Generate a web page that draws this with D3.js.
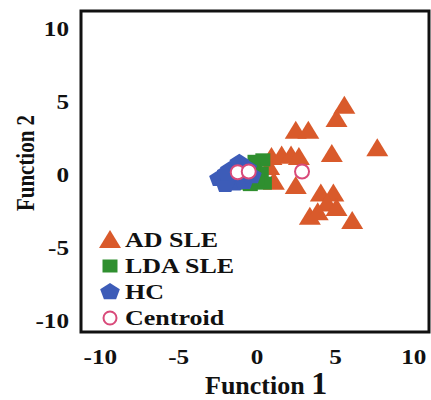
<!DOCTYPE html>
<html>
<head>
<meta charset="utf-8">
<script src="https://cdn.jsdelivr.net/npm/d3@7"></script>
<style>
  body { margin: 0; background: #fff; }
  text { font-family: "Liberation Serif", "Times New Roman", serif; font-weight: bold; fill: #111; }
</style>
</head>
<body>
<div id="chart"></div>
<script>
// group scores on the two discriminant functions
var adSle = [[5.6,4.7],[5.1,3.8],[2.5,3.0],[3.3,3.0],[7.7,1.8],[4.8,1.4],
             [0.95,1.2],[1.6,1.3],[2.2,1.3],[2.7,1.2],[0.8,0.5],[1.1,-0.5],[2.5,-0.8],
             [4.1,-1.3],[4.9,-1.3],[4.5,-2.0],[5.1,-2.3],[3.4,-2.9],[3.9,-2.6],[6.1,-3.2]];
var ldaSle = [[-0.1,0.9],[0.4,1.0],[0.3,0.1],[0.5,-0.6],[-0.4,-0.7],[-1.1,-0.6],
              [-1.6,-0.3],[0.0,-0.3],[-0.2,0.4]];
var hc = [[-2.4,-0.3],[-1.7,0.3],[-1.1,0.8],[-0.6,0.4],[-1.4,-0.6],[-0.8,-0.5],
          [-2.0,-0.7],[-0.3,-0.1],[-1.9,0.1]];
var centroids = [[-1.2,0.15],[-0.5,0.2],[2.9,0.2]];
var ticks = [-10, -5, 0, 5, 10];
var legendLabels = ["AD SLE", "LDA SLE", "HC", "Centroid"];

var W = 431, H = 400;

var svg = d3.select("#chart").append("svg").attr("width", W).attr("height", H);

var x = d3.scaleLinear().domain([-11.2, 11]).range([81, 429]);
var y = d3.scaleLinear().domain([-10.8, 11.2]).range([332, 11]);

var triPath = "M0,-10L11,8L-11,8Z";
var sqPath = "M-7.5,-6.5H7.5V6.5H-7.5Z";
function pentPath(r) {
    var pts = d3.range(5).map(function(i) {
        var a = -Math.PI / 2 + i * 2 * Math.PI / 5;
        return [r * 1.15 * Math.cos(a), r * Math.sin(a)];
    });
    return "M" + pts.join("L") + "Z";
}
function tickText(d) { return d < 0 ? "-" + Math.abs(d) : d; }

// y axis
var yAxis = svg.append("g").attr("transform", "translate(81,0)")
    .call(d3.axisLeft(y).tickValues(ticks).tickSize(0).tickPadding(10));
yAxis.select(".domain").remove();
yAxis.selectAll("text")
    .style("font-size", "21px")
    .attr("transform", "scale(1.2,1)")
    .text(tickText);

// x axis
var xAxis = svg.append("g").attr("transform", "translate(0,332)")
    .call(d3.axisBottom(x).tickValues(ticks).tickSize(0).tickPadding(17));
xAxis.select(".domain").remove();
xAxis.selectAll("text")
    .style("font-size", "21px")
    .attr("transform", "scale(1.2,1)")
    .text(tickText);

// points
var pts = svg.append("g");
pts.selectAll(".tri").data(adSle).enter().append("path")
    .attr("d", triPath).attr("fill", "#d95a2b")
    .attr("transform", function(d) { return "translate(" + x(d[0]) + "," + y(d[1]) + ")"; });
pts.selectAll(".sq").data(ldaSle).enter().append("path")
    .attr("d", sqPath).attr("fill", "#2f8f2f")
    .attr("transform", function(d) { return "translate(" + x(d[0]) + "," + y(d[1]) + ")"; });
pts.selectAll(".pent").data(hc).enter().append("path")
    .attr("d", pentPath(9)).attr("fill", "#3d5cb8")
    .attr("transform", function(d) { return "translate(" + x(d[0]) + "," + y(d[1]) + ")"; });
pts.selectAll("circle").data(centroids).enter().append("circle")
    .attr("cx", function(d) { return x(d[0]); })
    .attr("cy", function(d) { return y(d[1]); })
    .attr("r", 7).attr("fill", "#fff").attr("stroke", "#d94a7a").attr("stroke-width", 2);

// frame
svg.append("rect").attr("x", 81).attr("y", 11).attr("width", 348).attr("height", 321)
    .attr("fill", "none").attr("stroke", "#111").attr("stroke-width", 3);

// legend
var legend = svg.append("g");
var rowY = [240, 266, 292, 318];
legendLabels.forEach(function(lab, i) {
    var g = legend.append("g").attr("transform", "translate(110," + rowY[i] + ")");
    if (i == 0) g.append("path").attr("d", triPath).attr("fill", "#d95a2b");
    if (i == 1) g.append("path").attr("d", sqPath).attr("fill", "#2f8f2f");
    if (i == 2) g.append("path").attr("d", pentPath(9)).attr("fill", "#3d5cb8");
    if (i == 3) g.append("circle").attr("r", 6.5).attr("fill", "#fff")
        .attr("stroke", "#d94a7a").attr("stroke-width", 2);
    g.append("text").attr("transform", "translate(15,7) scale(1.3,1)")
        .style("font-size", "20px").text(lab);
});

// axis titles
var xt = svg.append("text").attr("x", 205).attr("y", 394).style("font-size", "26px");
xt.append("tspan").text("Function ");
xt.append("tspan").style("font-size", "32px").text("1");

svg.append("text")
    .attr("transform", "translate(34,163) scale(1.2,1) rotate(-90)")
    .attr("text-anchor", "middle")
    .style("font-size", "21px").text("Function 2");
</script>
</body>
</html>
